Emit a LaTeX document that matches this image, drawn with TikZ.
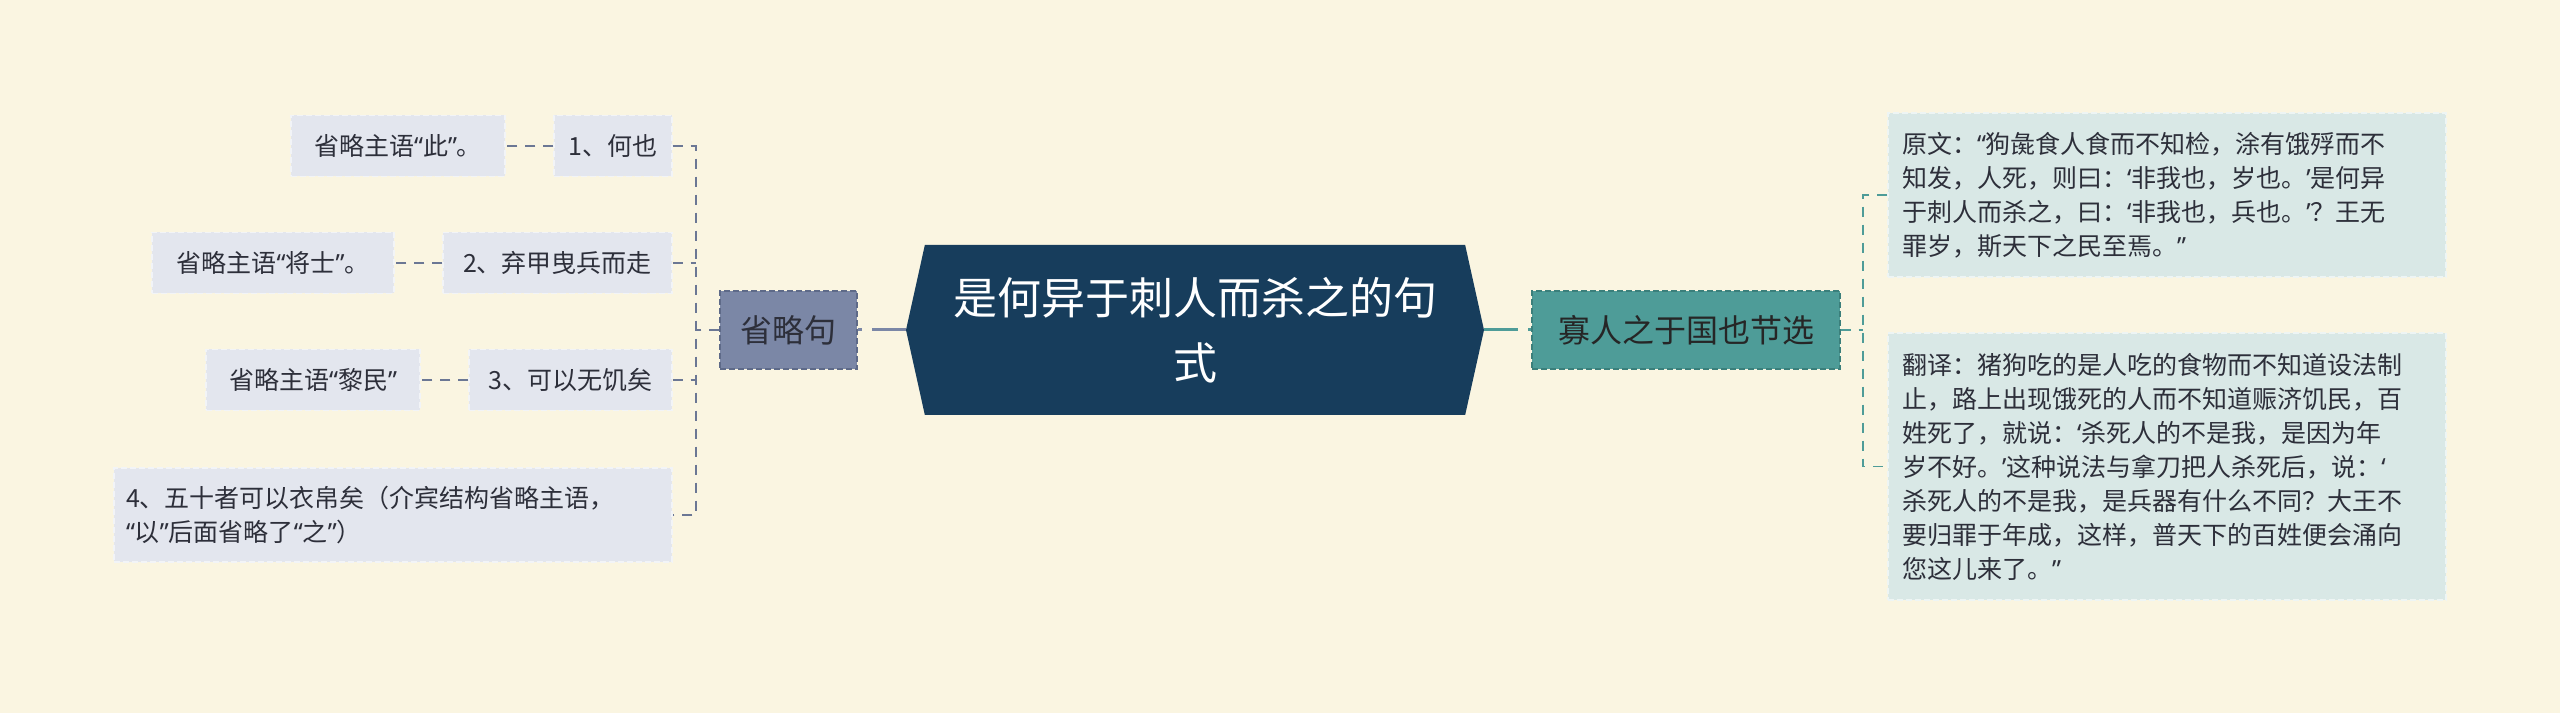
\documentclass[tikz,border=0pt]{standalone}
\usepackage{fontspec}
\setmainfont{Noto Sans CJK SC}
\newfontfamily\quotefont{Noto Sans}
\newcommand{\qleft}{{\quotefont “}}
\newcommand{\qright}{{\quotefont ”}}
\newcommand{\sqleft}{{\quotefont ‘}}
\newcommand{\sqright}{{\quotefont ’}}
\usepackage{xcolor}
\usepackage{tikz}
\usetikzlibrary{
  arrows,
  positioning,
  calc,
  shapes
}
\definecolor{paper}{HTML}{FAF5E1}
\definecolor{hubblue}{HTML}{173D5C}
\definecolor{slate}{HTML}{7B87A6}
\definecolor{slatedark}{HTML}{5E6A88}
\definecolor{slateline}{HTML}{6B7794}
\definecolor{sea}{HTML}{4E9C98}
\definecolor{seadark}{HTML}{3B7F7B}
\definecolor{leafgray}{HTML}{E3E6EE}
\definecolor{notesea}{HTML}{D9E8E6}
\definecolor{ink}{HTML}{2D2F3A}
\tikzset{
  hubbox/.style=
  {
    signal,
    signal to=west and east,
    signal pointer angle=155,
    fill=hubblue,
    text=white,
    minimum width=578pt,
    minimum height=170pt,
    inner sep=0pt,
    align=center,
    font=\fontsize{44}{65}\selectfont
  },
  topicleft/.style=
  {
    fill=slate,
    draw=slatedark,
    dash pattern=on 6pt off 3pt,
    line width=1.2pt,
    text=ink,
    minimum height=78pt,
    inner sep=0pt,
    font=\fontsize{32}{40}\selectfont
  },
  topicright/.style=
  {
    topicleft,
    fill=sea,
    draw=seadark,
    text=black!85
  },
  leafbox/.style=
  {
    fill=leafgray,
    draw=white!55!leafgray,
    dash pattern=on 6pt off 3pt,
    line width=1.2pt,
    text=ink,
    minimum height=61pt,
    inner sep=0pt,
    font=\fontsize{25}{34}\selectfont
  },
  notebox/.style=
  {
    leafbox,
    fill=notesea,
    draw=white!55!notesea,
    text width=530pt,
    inner xsep=14pt,
    align=left
  },
  trunkleft/.style=
  {
    draw=slate,
    line width=3pt,
    dash pattern=on 34pt off 10pt
  },
  trunkright/.style=
  {
    trunkleft,
    draw=sea
  },
  linkleft/.style=
  {
    draw=slateline,
    line width=1.5pt,
    dash pattern=on 10pt off 8pt
  },
  linkright/.style=
  {
    linkleft,
    draw=sea
  }
}
\begin{document}
\begin{tikzpicture}[x=1pt, y=1pt]
  \fill[paper] (0,0) rectangle (2560,713);
  \useasboundingbox (0,0) rectangle (2560,713);
  % centre and first level
  \node[hubbox] (hub) at (1195,383) {是何异于刺人而杀之的句\\式};
  \node[topicleft, minimum width=137pt] (sheng) at (788.5,383) {省略句};
  \node[topicright, minimum width=308pt] (gua) at (1686,383) {寡人之于国也节选};
  \draw[trunkleft] (hub.west) -- (sheng.east);
  \draw[trunkright] (hub.east) -- (gua.west);
  % left branch
  \node[leafbox, minimum width=118pt] (he) at (613,567) {1、何也};
  \node[leafbox, minimum width=229pt] (qi) at (557.5,450) {2、弃甲曳兵而走};
  \node[leafbox, minimum width=203pt] (wu) at (570.5,333) {3、可以无饥矣};
  \node[leafbox, minimum height=94pt, text width=534pt, inner xsep=12pt, align=left] (yi) at (393,198)
    {4、五十者可以衣帛矣（介宾结构省略主语，\\\qleft 以\qright 后面省略了\qleft 之\qright ）};
  \node[leafbox, minimum width=214pt] (ci) at (398,567) {省略主语\qleft 此\qright 。};
  \node[leafbox, minimum width=242pt] (jiangshi) at (273,450) {省略主语\qleft 将士\qright 。};
  \node[leafbox, minimum width=214pt] (limin) at (313,333) {省略主语\qleft 黎民\qright};
  \coordinate (lj) at (696,383);
  \draw[linkleft] (sheng.west) -- (lj);
  \draw[linkleft] (he.east) -| (lj) |- (yi.east);
  \draw[linkleft] (qi.east) -- (qi.east -| lj);
  \draw[linkleft] (wu.east) -- (wu.east -| lj);
  \draw[linkleft] (he.west) -- (ci.east);
  \draw[linkleft] (qi.west) -- (jiangshi.east);
  \draw[linkleft] (wu.west) -- (limin.east);
  % right branch
  \node[notebox, minimum height=164pt] (yuanwen) at (2167,518)
    {原文：\qleft 狗彘食人食而不知检，涂有饿殍而不\\知发，人死，则曰：\sqleft 非我也，岁也。\sqright 是何异\\于刺人而杀之，曰：\sqleft 非我也，兵也。\sqright ？王无\\罪岁，斯天下之民至焉。\qright};
  \node[notebox, minimum height=267pt] (fanyi) at (2167,246.5)
    {翻译：猪狗吃的是人吃的食物而不知道设法制\\止，路上出现饿死的人而不知道赈济饥民，百\\姓死了，就说：\sqleft 杀死人的不是我，是因为年\\岁不好。\sqright 这种说法与拿刀把人杀死后，说：\sqleft\\杀死人的不是我，是兵器有什么不同？大王不\\要归罪于年成，这样，普天下的百姓便会涌向\\您这儿来了。\qright};
  \coordinate (rj) at (1863,383);
  \draw[linkright] (gua.east) -- (rj);
  \draw[linkright] (yuanwen.west) -| (rj) |- (fanyi.west);
\end{tikzpicture}
\end{document}
